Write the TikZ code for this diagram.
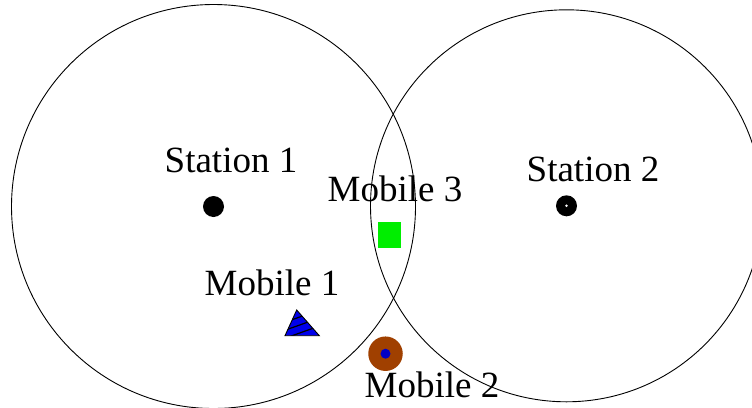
\documentclass[tikz,border=0pt]{standalone}
\usepackage{fontspec}
\setmainfont{Liberation Serif}
\begin{document}
\begin{tikzpicture}[x=1pt,y=-1pt,
  lbl/.style={font=\fontsize{37}{40}\selectfont, inner sep=0pt, anchor=base},
  coverage/.style={draw=black, line width=0.9pt},
  station/.style={circle, fill=black, minimum size=21pt, inner sep=0pt}]
\useasboundingbox (0,0) rectangle (752,407);
\definecolor{mgreen}{RGB}{0,238,0}
\definecolor{mblue}{RGB}{0,0,235}
\definecolor{mbrown}{RGB}{160,64,0}
\definecolor{mdot}{RGB}{0,0,200}

% labels
\node[lbl] (t1) at (231,172) {Station 1};
\node[lbl] (t2) at (593,181) {Station 2};
\node[lbl] (t3) at (395,201) {Mobile 3};
\node[lbl] (tm1) at (272,295) {Mobile 1};
\node[lbl] (tm2) at (432,397) {Mobile 2};

% base stations
\node[station] (s1) at (213.5,206.5) {};
\node[station] (s2) at (566.5,205.8) {};
\fill[white] (s2.center) circle (1.4);

% mobile 3: green square
\node[fill=mgreen, minimum width=23pt, minimum height=26pt, inner sep=0pt] (m3) at (389.7,235) {};

% mobile 1: hatched blue triangle
\coordinate (ta) at (296.7,310);
\coordinate (tb) at (285,335.7);
\coordinate (tc) at (319.3,335.7);
\fill[mblue] (ta) -- (tb) -- (tc) -- cycle;
\begin{scope}
  \clip (ta) -- (tb) -- (tc) -- cycle;
  \foreach \d in {-14,-6,2,10}
    \draw[line width=1.2pt] (280,330+\d) -- (325,314+\d);
\end{scope}
\draw[line width=0.9pt, line join=miter] (ta) -- (tb) -- (tc) -- cycle;

% mobile 2: brown ring with blue centre
\node[circle, fill=mbrown, minimum size=34.5pt, inner sep=0pt] (m2) at (385.5,353.7) {};
\fill[mdot] (m2.center) circle (5);

% coverage ranges
\draw[coverage] (s1.center) circle (202);
\draw[coverage] (s2.center) circle (196);
\end{tikzpicture}
\end{document}
